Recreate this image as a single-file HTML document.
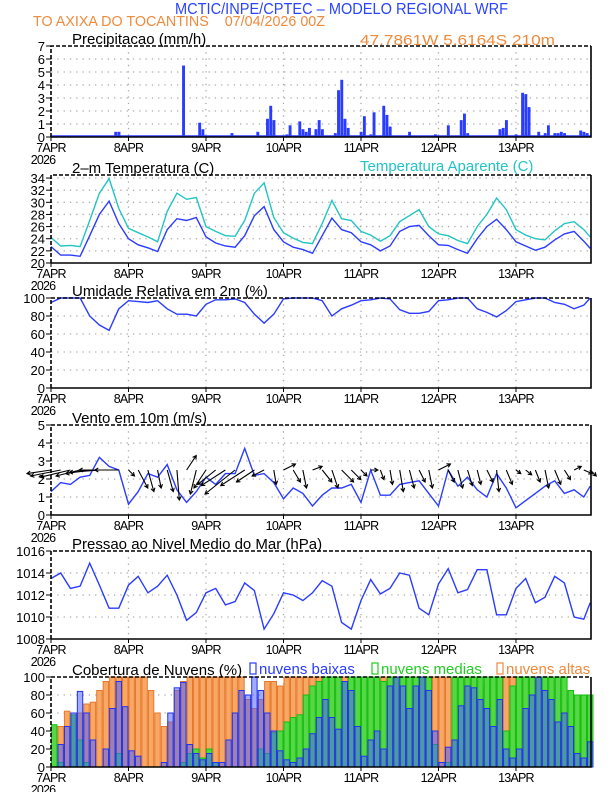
<!DOCTYPE html>
<html><head><meta charset="utf-8">
<style>
html,body{margin:0;padding:0;background:#fff;}
svg{display:block;font-family:"Liberation Sans",sans-serif;}
</style></head>
<body>
<svg id="chart" width="612" height="792" viewBox="0 0 612 792">
<text x="175" y="14" textLength="333" lengthAdjust="spacingAndGlyphs" font-size="15.5" fill="#2a44ff">MCTIC/INPE/CPTEC – MODELO REGIONAL WRF</text>
<text x="33" y="26" textLength="292" lengthAdjust="spacingAndGlyphs" font-size="15" fill="#f08a3c" xml:space="preserve">TO AXIXA DO TOCANTINS    07/04/2026 00Z</text>
<text x="360" y="45" textLength="195" lengthAdjust="spacingAndGlyphs" font-size="15" fill="#f08a3c">47.7861W 5.6164S 210m</text>
</svg>
<script>
// ---------- data ----------
const hours3 = [0,3,6,9,12,15,18,21,24,27,30,33,36,39,42,45,48,51,54,57,60,63,66,69,72,75,78,81,84,87,90,93,96,99,102,105,108,111,114,117,120,123,126,129,132,135,138,141,144,147,150,153,156,159,162,165,167];
const dayLabels = ["7APR","8APR","9APR","10APR","11APR","12APR","13APR"];
const precipHours = [20,21,22,23,41,43,46,47,56,60,64,67,68,69,73,74,77,78,79,80,82,83,84,88,89,90,91,92,96,97,99,100,102,103,104,105,111,113,119,123,127,128,129,139,140,141,144,146,147,148,151,153,154,156,157,158,159,164,165,166];
const precipValues = [0.4,0.4,0.1,0.1,5.5,0.1,1.1,0.6,0.3,0.1,0.4,1.4,2.4,1.3,0.2,0.9,1.2,0.6,0.4,0.7,0.6,1.3,0.6,0.3,3.6,4.4,1.4,0.7,0.4,1.6,0.2,1.9,0.1,2.4,1.7,0.8,0.4,0.1,0.2,0.9,1.3,1.8,0.3,0.6,0.7,1.3,0.2,3.4,3.3,2.3,0.4,0.3,0.9,0.3,0.3,0.4,0.3,0.5,0.4,0.3];
const temp2m = [22.7,21.3,21.3,21.1,24.5,28,30.2,26.5,24,23,22.5,21.9,25.5,27.3,27,27.5,24.3,23.3,22.8,22.6,24.5,27.8,29.3,25.5,23.5,22.6,22.2,21.6,24.5,27.4,25.5,25,23.5,23,22,22.8,25.2,26,26.2,24.5,23,22.9,22.2,21.6,24,26,27.2,25.5,23.5,22.8,22.1,22.6,23.8,24.8,25.2,23.6,22.4];
const tempApparent = [24.2,22.8,22.9,22.7,27,31.5,33.9,29,25.7,25,24.3,23.5,28.5,31.5,30.5,30.8,26,25.2,24.5,24.4,27,31.5,33.2,27.5,25,24.1,23.4,23.2,26.5,30.3,27.3,27,25.2,24.6,23.6,24.5,26.8,27.8,28.8,26,24.8,24.5,23.7,23.2,26,28,30.7,28.8,25.5,24.6,24,23.8,25.3,26.5,26.8,25.5,24.3];
const relHumidity = [95,100,100,100,80,70,64,88,97,96,95,97,88,82,82,80,93,98,98,99,95,82,72,82,99,100,100,100,97,80,88,92,97,98,100,99,87,83,83,85,97,98,100,100,88,84,79,86,96,98,100,100,95,93,88,92,100];
const windSpeed = [1.3,1.8,1.7,2.1,2.2,3.2,2.7,2.5,0.6,1.3,2.3,2.1,2.8,1.4,0.7,1.3,2.1,1.7,2.3,2.3,3.7,2.2,2.3,1.8,0.9,1.5,1.2,0.5,1.1,1.5,1.5,1.7,0.7,2.5,1.1,1.1,1.7,1.8,1.9,1.2,0.5,2.5,1.6,2.1,1.4,1.0,2.3,1.5,0.4,0.8,1.2,1.6,1.9,1.2,1.4,1.0,1.6];
const windU = [-2,-2.5,-2.5,-2,-2,-2.5,-2.5,-2, 0.5,0.8,0.5,0.3,0.5,0.2,0.8,-0.5, -1,-1.5,-2,-2.5,-2,-1.5,-1,0.2, 1,0.6,0.3,0.8,0.8,0.5,1,0.8, 0.5,0.6,0.3,0.2,0.3,0.4,0.5,0.3, 1,0.5,0.4,0.4,0.3,0.5,0.2,0.5, 0.4,0.5,0.4,0.3,0.5,0.5,0.6,0.7,0.5];
const windV = [-0.3,-0.5,-0.6,-0.5,-0.3,-0.2,0,0, -0.5,-1.5,-1.8,-1.5,-1.8,-2.5,1.2,-2, -1.5,-1.2,-1.3,-2,-1.3,-1,-0.5,-1.2, 0.5,-1,-1.5,0.3,-1,-1.5,-1,-0.8, -0.5,0,-0.8,-1.2,-1.8,-1.5,-1,-1.5, 0.5,-1,-1.5,-1.3,-1.2,-1,-1.8,-1.2, -0.3,-0.4,-1,-1.5,-1.2,-0.8,0.3,-0.3,-0.5];
const pressure = [1013.5,1014.0,1012.6,1012.8,1014.9,1012.9,1010.8,1010.8,1012.9,1013.7,1012.2,1012.8,1013.8,1012.0,1009.7,1010.4,1012.2,1012.6,1011.1,1011.4,1013.1,1012.4,1008.9,1010.3,1012.2,1012.0,1011.5,1012.2,1013.3,1012.8,1009.5,1008.9,1011.5,1013.4,1012.1,1012.6,1014.0,1013.8,1010.8,1010.2,1013.0,1014.4,1012.2,1012.5,1014.3,1014.3,1010.2,1010.2,1012.6,1013.5,1011.3,1011.8,1013.7,1013.1,1010.0,1009.8,1011.3];
const cloudHours = []; for (let h = 0; h <= 166; h += 2) cloudHours.push(h);
const cloudHigh = [0,45,62,55,60,70,72,85,95,100,100,100, 100,100,100,85,60,45,50,85,95,100,100,100, 100,100,100,100,100,100,75,65,75,95,95,90, 100,100,100,100,100,100,100,100,100,100,95,100, 100,100,100,100,100,100,100,100,100,100,100,100, 100,100,100,100,100,100,95,90,100,100,100,100, 100,100,100,100,100,100,95,85,75,80,80,80];
const cloudMid = [47,5,0,58,30,5,0,0,0,0,15,0, 0,0,0,0,0,0,0,0,5,15,20,10, 20,5,0,0,0,0,0,0,20,15,38,40, 50,55,58,80,90,95,100,100,100,95,100,100, 100,100,100,95,100,100,100,100,100,100,100,25, 0,5,100,100,100,100,100,100,100,100,40,90, 100,100,100,100,100,100,100,100,85,80,80,80];
const cloudLow = [0,25,45,60,84,60,30,0,20,65,95,67, 18,12,0,0,0,5,60,88,94,25,15,8, 15,5,5,30,60,85,80,100,85,60,40,18, 8,5,10,20,37,55,75,55,42,95,85,45, 12,30,40,20,90,100,90,65,90,100,85,40, 5,22,30,68,90,88,75,65,45,75,20,10, 20,65,80,100,85,75,50,60,45,15,10,28];

// ---------- helpers ----------
const NS = "http://www.w3.org/2000/svg";
const svg = document.getElementById("chart");
const X0 = 51, HPX = 3.229, XR = 591;
function xh(h){ return X0 + h*HPX; }
function mk(tag, attrs, parent){
  const e = document.createElementNS(NS, tag);
  for (const k in attrs) e.setAttribute(k, attrs[k]);
  (parent||svg).appendChild(e);
  return e;
}
function panel(name, title, top, bot, min, max, ticks){
  const g = mk("g", {});
  
  
  const y = v => bot - (v-min)/(max-min)*(bot-top);
  ticks.forEach(t => {
    if (t === min || y(t) <= top+1) return;
    const l = mk("line", {x1:X0, x2:XR, y1:y(t), y2:y(t), stroke:"#aaa", "stroke-width":1.3, "stroke-dasharray":"1.3 5"}, g);
    
    
  });
  for (let d = 1; d < 7; d++){
    const l = mk("line", {x1:xh(d*24), x2:xh(d*24), y1:top, y2:bot, stroke:"#aaa", "stroke-width":1.3, "stroke-dasharray":"1.3 5"}, g);
    
    
  }
  ticks.forEach(t => {
    const tx = mk("text", {x:45, y:y(t)+5, "text-anchor":"end", "font-size":13, fill:"#000"}, g);
    tx.textContent = t;
    
    
    const tk = mk("line", {x1:46, x2:51, y1:y(t), y2:y(t), stroke:"#000"}, g);
    
    
  });
  dayLabels.forEach((lab, i) => {
    const tx = mk("text", {x:xh(i*24), y:bot+15, "text-anchor":"middle", "font-size":12.5, "letter-spacing":"-0.8", fill:"#000"}, g);
    tx.textContent = lab;
    
    
    const tk = mk("line", {x1:xh(i*24), x2:xh(i*24), y1:bot, y2:bot+4, stroke:"#000"}, g);
    
    
  });
  const yr = mk("text", {x:43, y:bot+27, "text-anchor":"middle", "font-size":12.5, "letter-spacing":"-0.8", fill:"#000"}, g);
  yr.textContent = "2026";
  
  
  const tt = mk("text", {x:72, y:top-2, "font-size":15, fill:"#000"}, g);
  tt.textContent = title;
  
  
  const plot = mk("g", {}, g);
  
  
  return {g, plot, y, top, bot, frame(){
    const f1 = mk("path", {d:`M${X0},${bot} L${X0},${top} L${XR},${top}`, fill:"none", stroke:"#000", "stroke-width":1.6, "stroke-dasharray":"4 2"}, g);
    
    
    const f2 = mk("path", {d:`M${XR},${top} L${XR},${bot} L${X0},${bot}`, fill:"none", stroke:"#000", "stroke-width":1.6}, g);
    
    
  }};
}
function line(p, hs, vals, color, name){
  const d = hs.map((h,i) => (i?"L":"M") + xh(h).toFixed(1) + "," + p.y(vals[i]).toFixed(1)).join(" ");
  const l = mk("path", {d, fill:"none", stroke:color, "stroke-width":1.4}, p.plot);
  
  
}
const rng = (a,b,s) => { const r=[]; for(let v=a; v<=b+1e-9; v+=s) r.push(v); return r; };

// ---------- precipitation ----------
const P1 = panel("precipitation", "Precipitacao (mm/h)", 46, 137, 0, 7, rng(0,7,1));
const pb = mk("line", {x1:X0, x2:XR, y1:136, y2:136, stroke:"#2a3cff", "stroke-width":1.5}, P1.plot);


precipHours.forEach((h,i) => {
  const yv = P1.y(precipValues[i]);
  const r = mk("rect", {x:xh(h)-1.3, y:yv, width:2.9, height:137-yv, fill:"#2a3cff"}, P1.plot);
  
  
});
P1.frame();

// ---------- temperature ----------
const P2 = panel("temperature", "2–m Temperatura (C)", 175, 263, 20, 34.5, rng(20,34,2));
const ta = mk("text", {x:360, y:171, "font-size":15, fill:"#22c4c4"}, P2.g);
ta.textContent = "Temperatura Aparente (C)";


line(P2, hours3, tempApparent, "#22c4c4", "apparent-temperature-line");
line(P2, hours3, temp2m, "#2a3cff", "temperature-line");
P2.frame();

// ---------- relative humidity ----------
const P3 = panel("humidity", "Umidade Relativa em 2m (%)", 298, 388, 0, 100, rng(0,100,20));
line(P3, hours3, relHumidity, "#2a3cff", "humidity-line");
P3.frame();

// ---------- wind ----------
const P4 = panel("wind", "Vento em 10m (m/s)", 425, 515, 0, 5, rng(0,5,1));
line(P4, hours3, windSpeed, "#2a3cff", "wind-speed-line");
const ay = P4.y(2.5), AS = 12;
hours3.forEach((h,i) => {
  const x1 = xh(h), y1 = ay, x2 = x1 + windU[i]*AS, y2 = y1 - windV[i]*AS;
  const len = Math.hypot(x2-x1, y2-y1) || 1;
  const ux = (x2-x1)/len, uy = (y2-y1)/len, hl = 4;
  const d = `M${x1},${y1} L${x2},${y2} M${x2-hl*(ux*0.87-uy*0.5)},${y2-hl*(uy*0.87+ux*0.5)} L${x2},${y2} L${x2-hl*(ux*0.87+uy*0.5)},${y2-hl*(uy*0.87-ux*0.5)}`;
  const a = mk("path", {d, fill:"none", stroke:"#000", "stroke-width":1.1}, P4.plot);
  
  
});
P4.frame();

// ---------- pressure ----------
const P5 = panel("pressure", "Pressao ao Nivel Medio do Mar (hPa)", 551, 639, 1008, 1016, rng(1008,1016,2));
line(P5, hours3, pressure, "#2a3cff", "pressure-line");
P5.frame();

// ---------- clouds ----------
const P6 = panel("clouds", "Cobertura de Nuvens (%)", 677, 767, 0, 100, rng(0,100,20));
function bars(vals, fill, stroke, name){
  cloudHours.forEach((h,i) => {
    if (vals[i] <= 0) return;
    const yv = P6.y(vals[i]);
    const r = mk("rect", {x:xh(h)+0.5, y:yv, width:5.4, height:767-yv, fill, stroke, "stroke-width":1}, P6.plot);
    
    
  });
}
bars(cloudHigh, "#f7a865", "#e8762a", "cloud-high-bar");
bars(cloudMid, "#55d845", "#10c010", "cloud-mid-bar");
bars(cloudLow, "rgba(70,90,255,0.5)", "#2233ee", "cloud-low-bar");
P6.frame();
const legend = [["nuvens baixas","#2a3cff",250],["nuvens medias","#22cc22",372],["nuvens altas","#f08a3c",497]];
legend.forEach(([t,c,x]) => {
  const b = mk("rect", {x:x, y:663, width:6, height:11, fill:"none", stroke:c, "stroke-width":1.2}, P6.g);
  
  
  const tx = mk("text", {x:x+9, y:674, "font-size":15, fill:c}, P6.g);
  tx.textContent = t;
  
  
});
</script>
</body></html>
